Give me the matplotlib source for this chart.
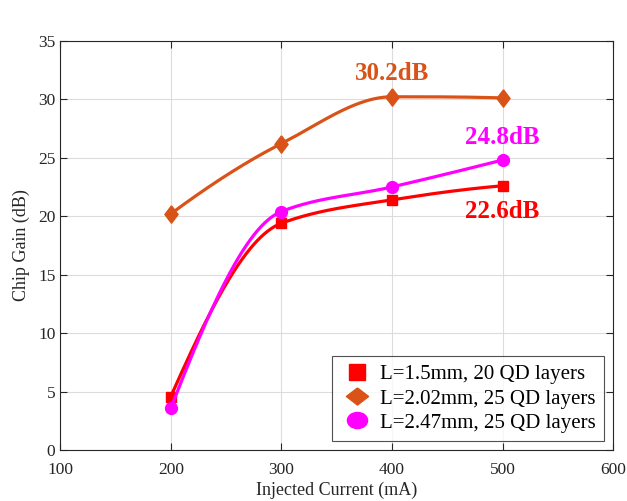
import numpy as np
import matplotlib.pyplot as plt
from matplotlib.lines import Line2D
from matplotlib.path import Path

plt.rcParams['font.family'] = ['Liberation Serif', 'DejaVu Serif']

current = [200, 300, 400, 500]  # mA
gain_15 = [4.6, 19.4, 21.4, 22.6]    # L=1.5mm, 20 QD layers
gain_202 = [20.2, 26.2, 30.2, 30.1]  # L=2.02mm, 25 QD layers
gain_247 = [3.6, 20.4, 22.5, 24.8]   # L=2.47mm, 25 QD layers

labels = ['L=1.5mm, 20 QD layers', 'L=2.02mm, 25 QD layers', 'L=2.47mm, 25 QD layers']
colors = ['#FF0000', '#D95319', '#FF00FF']
# slightly tall diamond on the curves, wider ones in the legend
diamond = [(0, 1), (0.76, 0), (0, -1), (-0.76, 0), (0, 1)]
wide_diamond = [(0, 0.77), (1, 0), (0, -0.77), (-1, 0), (0, 0.77)]
circ = Path.unit_circle()
ellipse = Path(circ.vertices * [1.0, 0.8], circ.codes)
markers = ['s', diamond, 'o']
msizes = [7, 12.5, 8.5]
leg_markers = ['s', wide_diamond, ellipse]
leg_sizes = [11, 16, 14.5]


def pchip(x, y, xs):
    # shape-preserving piecewise cubic (Fritsch-Carlson)
    x = np.asarray(x, float)
    y = np.asarray(y, float)
    h = np.diff(x)
    d = np.diff(y) / h
    n = len(x)
    m = np.zeros(n)
    for k in range(1, n - 1):
        if d[k - 1] * d[k] > 0:
            w1 = 2 * h[k] + h[k - 1]
            w2 = h[k] + 2 * h[k - 1]
            m[k] = (w1 + w2) / (w1 / d[k - 1] + w2 / d[k])
    m0 = ((2 * h[0] + h[1]) * d[0] - h[0] * d[1]) / (h[0] + h[1])
    if np.sign(m0) != np.sign(d[0]):
        m0 = 0
    elif np.sign(d[0]) != np.sign(d[1]) and abs(m0) > abs(3 * d[0]):
        m0 = 3 * d[0]
    m[0] = m0
    mn = ((2 * h[-1] + h[-2]) * d[-1] - h[-1] * d[-2]) / (h[-1] + h[-2])
    if np.sign(mn) != np.sign(d[-1]):
        mn = 0
    elif np.sign(d[-1]) != np.sign(d[-2]) and abs(mn) > abs(3 * d[-1]):
        mn = 3 * d[-1]
    m[-1] = mn
    idx = np.clip(np.searchsorted(x, xs) - 1, 0, n - 2)
    t = (xs - x[idx]) / h[idx]
    h00 = 2 * t**3 - 3 * t**2 + 1
    h10 = t**3 - 2 * t**2 + t
    h01 = -2 * t**3 + 3 * t**2
    h11 = t**3 - t**2
    return h00 * y[idx] + h10 * h[idx] * m[idx] + h01 * y[idx + 1] + h11 * h[idx] * m[idx + 1]


fig = plt.figure(figsize=(6.27, 5.01), dpi=100)
ax = fig.add_axes([0.096, 0.101, 0.882, 0.818])

xs = np.linspace(200, 500, 300)
for g, c, mk, ms in zip([gain_15, gain_202, gain_247], colors, markers, msizes):
    ax.plot(xs, pchip(current, g, xs), color=c, lw=2.3)
    ax.plot(current, g, marker=mk, ls='none', color=c, ms=ms)

# value labels at the highlighted points
ax.text(current[2], gain_202[2] + 1.43, f'{gain_202[2]}dB', color=colors[1],
        fontsize=18, fontweight='bold', ha='center', va='baseline')
ax.text(current[3], gain_247[3] + 1.34, f'{gain_247[3]}dB', color=colors[2],
        fontsize=18, fontweight='bold', ha='center', va='baseline')
ax.text(current[3], gain_15[3] - 2.75, f'{gain_15[3]}dB', color=colors[0],
        fontsize=18, fontweight='bold', ha='center', va='baseline')

ax.set_xlim(100, 600)
ax.set_ylim(0, 35)
ax.set_xticks(range(100, 601, 100))
ax.set_yticks(range(0, 36, 5))
ax.grid(True, color='#dcdcdc', lw=0.8)
ax.tick_params(direction='in', top=True, right=True, labelsize=12.5,
               colors='#262626', length=5)
ax.tick_params(axis='x', pad=8)
for sp in ax.spines.values():
    sp.set_color('#262626')
    sp.set_linewidth(0.8)

ax.set_xlabel('Injected Current (mA)', fontsize=13, color='#262626', labelpad=3)
ax.set_ylabel('Chip Gain (dB)', fontsize=13, color='#262626', labelpad=6)

handles = [Line2D([], [], ls='none', marker=mk, ms=ms, color=c)
           for mk, ms, c in zip(leg_markers, leg_sizes, colors)]
leg = ax.legend(handles, labels, loc='lower right', fontsize=15, frameon=True,
                fancybox=False, edgecolor='#262626', borderpad=0.4,
                handletextpad=0.3, labelspacing=0.22, handlelength=1.6,
                borderaxespad=0.45)
leg.get_frame().set_linewidth(0.8)

fig.savefig('out.png', dpi=100)
